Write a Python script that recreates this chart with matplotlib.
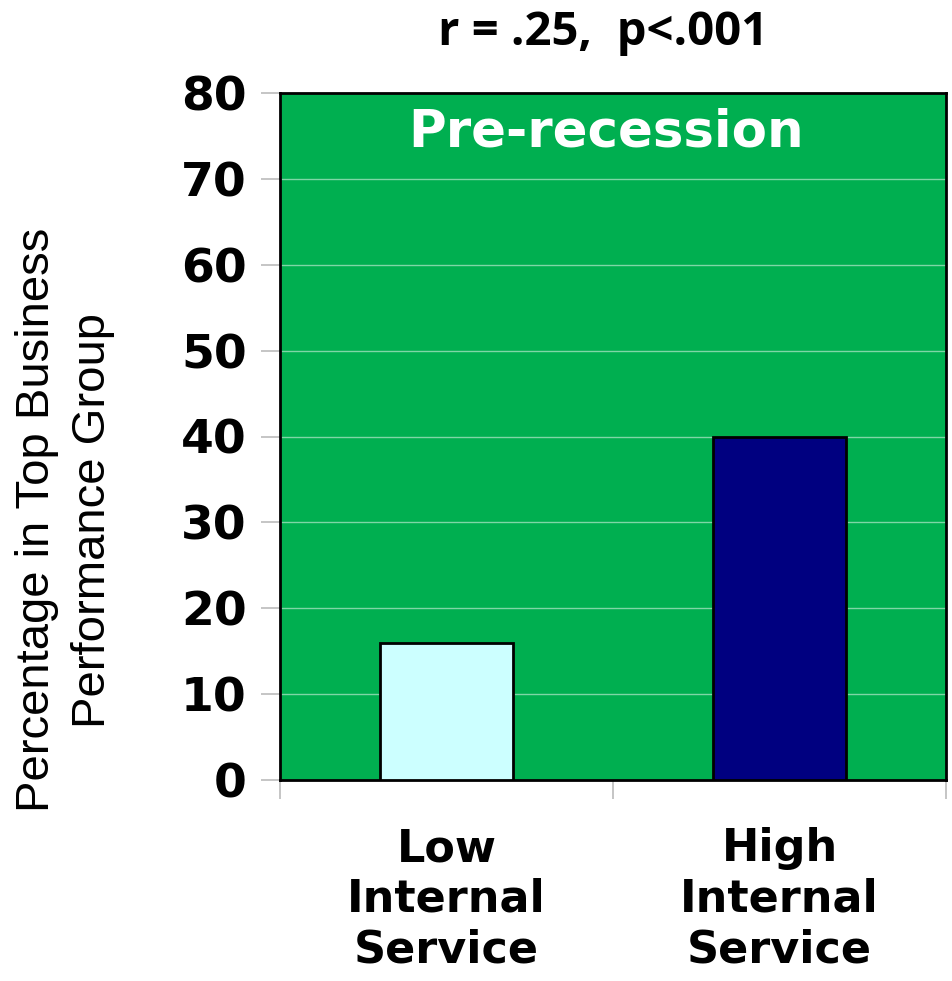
import matplotlib.pyplot as plt
import numpy as np

# valeurs du graphe
categories = ["Low\nInternal\nService", "High\nInternal\nService"]
pourcentages = [16, 40]
couleurs = ["#CCFFFF", "#000080"]
yticks = [0, 10, 20, 30, 40, 50, 60, 70, 80]

fig = plt.figure(figsize=(9.52, 9.81), dpi=100)
ax = fig.add_axes([280/952, 1 - 780/981, 666/952, 687/981])

ax.set_facecolor("#00AF50")
x = np.arange(len(categories))
ax.bar(x, pourcentages, width=0.4, color=couleurs, edgecolor="black", linewidth=2, zorder=3)

ax.set_xlim(-0.5, 1.5)
ax.set_ylim(0, 80)
ax.set_yticks(yticks)
ax.yaxis.grid(True, color="#7FD6A6", linewidth=1, zorder=1)

ax.set_xticks([-0.5, 0.5, 1.5], minor=False)
ax.set_xticklabels([])
ax.set_xticks(x, minor=True)
ax.set_xticklabels(categories, minor=True, fontsize=32, fontweight="bold",
                   family="DejaVu Sans", linespacing=1.22)
ax.tick_params(axis="x", which="minor", length=0, pad=34)
ax.tick_params(axis="x", which="major", length=14, color="#BBBBBB", width=1.2)
ax.tick_params(axis="y", length=14, color="#BBBBBB", width=1.2, pad=10)
for lab in ax.get_yticklabels():
    lab.set_fontsize(34)
    lab.set_fontweight("bold")

for s in ax.spines.values():
    s.set_color("black")
    s.set_linewidth(2)

ax.text(0.49, 0.943, "Pre-recession", transform=ax.transAxes, ha="center", va="center",
        color="white", fontsize=37, fontweight="bold")

fig.text(603/952, 1 - 33/981, "r = .25,  p<.001", ha="center", va="center",
         fontsize=34, fontweight="bold", family="Open Sans")

fig.text(65/952, 1 - 520/981, "Percentage in Top Business\nPerformance Group", rotation=90,
         ha="center", va="center", fontsize=34, family="Liberation Sans", linespacing=1.35)

fig.savefig("out.png", dpi=100)
